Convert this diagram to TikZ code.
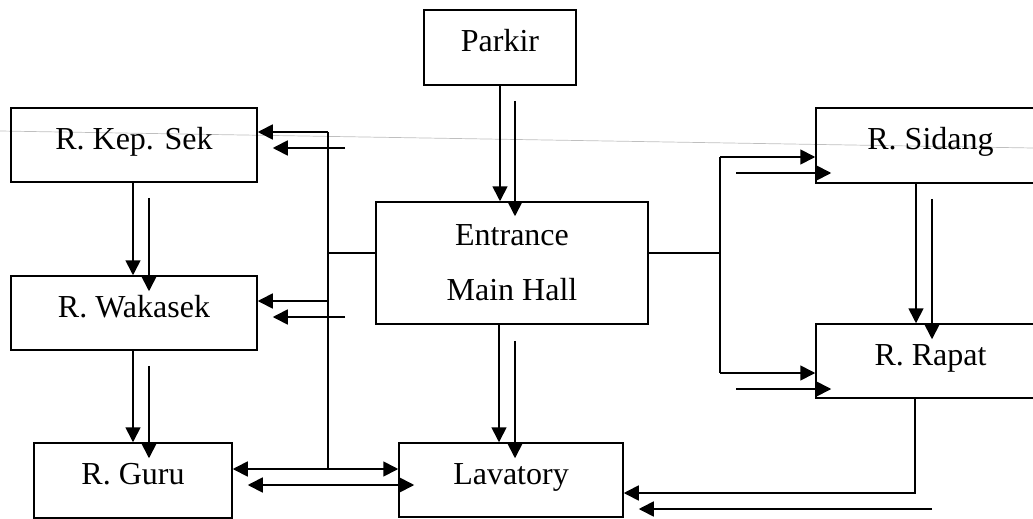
\documentclass[tikz,border=0pt]{standalone}
\usepackage{fontspec}
\setmainfont{Liberation Serif}
\usetikzlibrary{arrows.meta,calc}
\tikzset{
  boxbase/.style={draw, line width=1.5pt, rectangle, inner sep=0pt, font=\fontsize{32}{55}\selectfont},
  box/.style={boxbase, text height=8pt, text depth=0pt},
  ln/.style={line width=1.7pt},
  arr/.style={ln, -{Triangle[length=15pt,width=15pt]}},
  darr/.style={ln, {Triangle[length=15pt,width=15pt]}-{Triangle[length=15pt,width=15pt]}},
  scanline/.style={draw=gray!50, line width=0.7pt}
}
\begin{document}
\begin{tikzpicture}[x=1pt,y=-1pt]
\useasboundingbox (0,0) rectangle (1033,519);
\clip (0,0) rectangle (1033,519);

% faint scan line
\coordinate (g1) at (0,131);
\coordinate (g2) at (1033,148);
\draw[scanline] (g1) -- (g2);

% boxes
\node[box, minimum width=152pt, minimum height=75pt] (parkir) at (500,47.5) {Parkir};
\node[box, minimum width=246pt, minimum height=74pt] (kep) at (134,145) {R. Kep. Sek};
\node[box, minimum width=246pt, minimum height=74pt] (wak) at (134,313) {R. Wakasek};
\node[box, minimum width=198pt, minimum height=75pt] (guru) at (133,480.5) {R. Guru};
\node[boxbase, align=center, minimum width=272pt, minimum height=122pt] (ent) at (512,263) {Entrance\\Main Hall};
\node[box, minimum width=224pt, minimum height=74pt] (lav) at (511,480) {Lavatory};
\node[box, minimum width=229pt, minimum height=75pt] (sid) at (930.5,145.5) {R. Sidang};
\node[box, minimum width=229pt, minimum height=74pt] (rap) at (930.5,361) {R. Rapat};

% Parkir -> Entrance
\draw[arr] (parkir.south) -- (parkir.south |- ent.north);
\draw[arr] ($(parkir.south)+(15,15)$) -- ($(parkir.south |- ent.north)+(15,15)$);

% Entrance -> Lavatory
\draw[arr] ($(ent.south)+(-13,0)$) -- ($(ent.south |- lav.north)+(-13,0)$);
\draw[arr] ($(ent.south)+(3,16)$) -- ($(ent.south |- lav.north)+(3,16)$);

% Kep. Sek -> Wakasek
\draw[arr] ($(kep.south)+(-1,0)$) -- ($(kep.south |- wak.north)+(-1,0)$);
\draw[arr] ($(kep.south)+(15,15)$) -- ($(kep.south |- wak.north)+(15,16)$);

% Wakasek -> Guru
\draw[arr] ($(wak.south)+(-1,0)$) -- ($(wak.south |- guru.north)+(-1,0)$);
\draw[arr] ($(wak.south)+(15,15)$) -- ($(wak.south |- guru.north)+(15,16)$);

% Sidang -> Rapat
\draw[arr] ($(sid.south)+(-14.5,0)$) -- ($(sid.south |- rap.north)+(-14.5,0)$);
\draw[arr] ($(sid.south)+(1.5,15)$) -- ($(sid.south |- rap.north)+(1.5,16)$);

% left bus
\coordinate (lt) at (328,132);
\coordinate (lw) at (328,301);
\coordinate (lb) at (328,469);
\coordinate (ej) at ($(ent.west)+(0,-10)$);
\draw[ln] (lt) -- (lb);
\draw[ln] (ej) -- (ej -| lt);
\draw[arr] (lt) -- (lt -| kep.east);
\draw[arr] ($(lt)+(17,16)$) -- ($(lt -| kep.east)+(15,16)$);
\draw[arr] (lw) -- (lw -| wak.east);
\draw[arr] ($(lw)+(17,16)$) -- ($(lw -| wak.east)+(15,16)$);
\draw[darr] (lb -| guru.east) -- (lb -| lav.west);
\draw[darr] ($(lb -| guru.east)+(15,16)$) -- ($(lb -| lav.west)+(16,16)$);

% right bus
\coordinate (rt) at (720,157);
\coordinate (rb) at (720,373);
\coordinate (ek) at ($(ent.east)+(0,-10)$);
\draw[ln] (rt) -- (rb);
\draw[ln] (ek) -- (ek -| rt);
\draw[arr] (rt) -- (rt -| sid.west);
\draw[arr] ($(rt)+(16,16)$) -- ($(rt -| sid.west)+(16,16)$);
\draw[arr] (rb) -- (rb -| rap.west);
\draw[arr] ($(rb)+(16,16)$) -- ($(rb -| rap.west)+(16,16)$);

% Rapat -> Lavatory
\coordinate (rl) at (915,493);
\draw[arr] (rap.south -| rl) -- (rl) -- (rl -| lav.east);
\draw[arr] ($(rl)+(17,16)$) -- ($(rl -| lav.east)+(15,16)$);
\end{tikzpicture}
\end{document}
